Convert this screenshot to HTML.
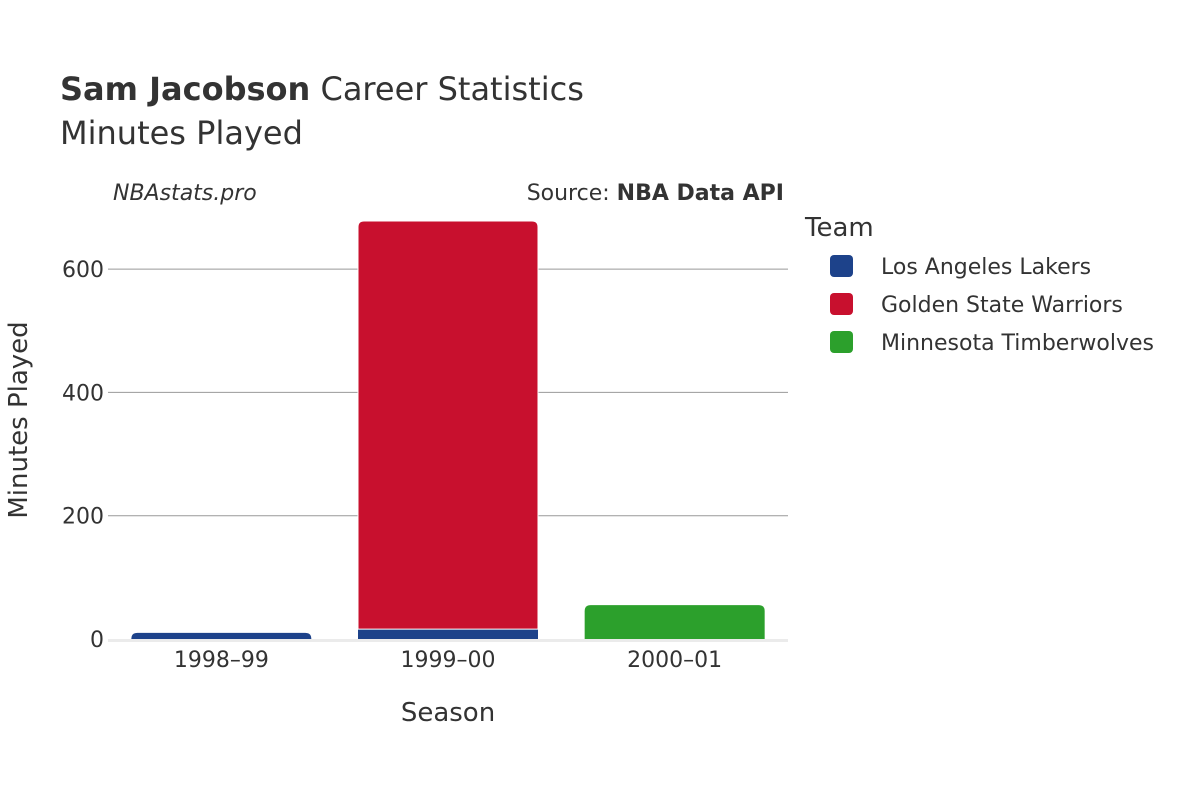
<!DOCTYPE html>
<html><head><meta charset="utf-8"><style>
body{margin:0;background:#fff;font-family:"DejaVu Sans","Liberation Sans",sans-serif;}
svg text{font-family:"DejaVu Sans","Liberation Sans",sans-serif;fill:#333;}
</style></head><body>
<svg id="chart" width="1200" height="800">
<text x="60" y="100" font-size="32"><tspan font-weight="bold">Sam Jacobson</tspan> Career Statistics</text>
<text x="60" y="144" font-size="32">Minutes Played</text>
<text x="113" y="200" font-size="22" font-style="italic">NBAstats.pro</text>
<text x="784" y="200" font-size="22" text-anchor="end">Source: <tspan font-weight="bold">NBA Data API</tspan></text>
<g id="grid"></g>
<g id="bars"></g>
<g id="xticks"></g>
<text x="448" y="721" font-size="26" text-anchor="middle">Season</text>
<text transform="translate(27,420) rotate(-90)" font-size="26" text-anchor="middle">Minutes Played</text>
<text x="805" y="236" font-size="26">Team</text>
<g id="legend"></g>
</svg>
<script>
const seasons=["1998–99","1999–00","2000–01"];
const teams=["Los Angeles Lakers","Golden State Warriors","Minnesota Timberwolves"];
const colors=["#1d428a","#c8102e","#2ca02c"];
const lakers=[10,16,0];
const warriors=[0,662,0];
const wolves=[0,0,55];
const yTicks=[0,200,400,600];
const series=[lakers,warriors,wolves];
const NS="http://www.w3.org/2000/svg";
const x0=108,x1=788,y0=639,k=0.6165;
const y=v=>y0-v*k;
const band=(x1-x0)/seasons.length, bw=180;
function mk(t,a,p){const e=document.createElementNS(NS,t);for(const n in a)e.setAttribute(n,a[n]);p.appendChild(e);return e;}
const grid=document.getElementById('grid');
yTicks.forEach(v=>{
  if(v>0){const l=mk('line',{x1:x0,x2:x1,y1:y(v),y2:y(v),stroke:'#999','stroke-width':1},grid);
  
  }
  const t=mk('text',{x:x0-4,y:y(v)+8,'font-size':22,'text-anchor':'end'},grid);t.textContent=v;
  
  
});
const base=mk('line',{x1:x0,x2:x1,y1:y0+1.5,y2:y0+1.5,stroke:'#ebebeb','stroke-width':3},grid);


const bars=document.getElementById('bars');
seasons.forEach((s,i)=>{
  const cx=x0+band*(i+0.5);let cum=0;
  const top=series.reduce((m,ser,j)=>ser[i]>0?j:m,-1);
  series.forEach((ser,j)=>{
    const v=ser[i];if(!v)return;
    const yt=y(cum+v),yb=y(cum);cum+=v;
    const xl=cx-bw/2,r=j===top?Math.min(6,(yb-yt)):0;
    const d=`M${xl},${yb}V${yt+r}Q${xl},${yt} ${xl+r},${yt}H${xl+bw-r}Q${xl+bw},${yt} ${xl+bw},${yt+r}V${yb}Z`;
    const p=mk('path',{d:d,fill:colors[j],stroke:'#fff','stroke-width':j===top&&cum!==v?1:0},bars);
    
    
  });
  const t=mk('text',{x:cx,y:667,'font-size':22,'text-anchor':'middle'},document.getElementById('xticks'));t.textContent=s;
  
  
});
const lg=document.getElementById('legend');
teams.forEach((n,i)=>{
  const yy=266+i*38;
  const r=mk('rect',{x:830,y:yy-11,width:23,height:22,rx:4,fill:colors[i]},lg);
  
  
  const t=mk('text',{x:881,y:yy+8,'font-size':22},lg);t.textContent=n;
  
  
});
</script>
</body></html>
